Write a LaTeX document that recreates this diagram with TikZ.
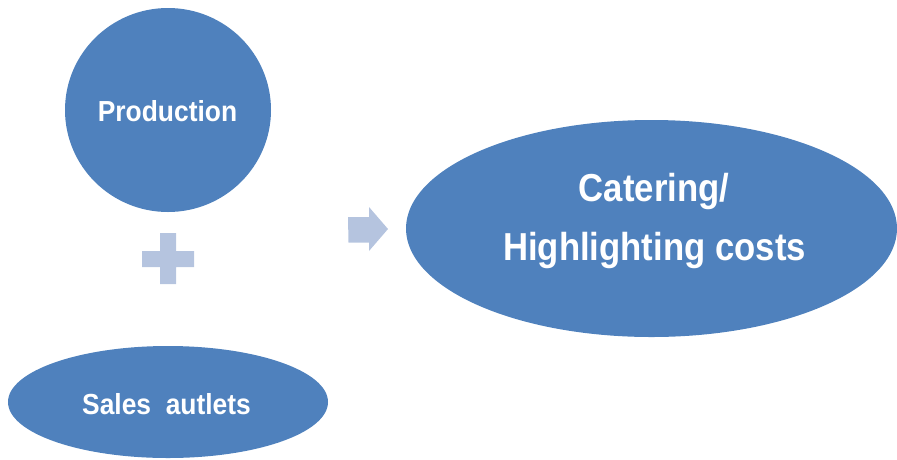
\documentclass[tikz,border=0pt]{standalone}
\usepackage{fontspec}
\usepackage{graphicx}
\setmainfont{Liberation Sans}
\usetikzlibrary{shapes.geometric}
\definecolor{mainblue}{RGB}{79,129,189}
\definecolor{lightblue}{RGB}{181,196,223}
\tikzset{
  blob/.style={ellipse, fill=mainblue, draw=none, inner sep=0pt},
  smalltxt/.style={text=white, anchor=base, inner sep=0pt, font=\bfseries\fontsize{29}{32}\selectfont},
  bigtxt/.style={text=white, anchor=base, inner sep=0pt, font=\bfseries\fontsize{39}{44}\selectfont},
  deco/.style={fill=lightblue, draw=none}
}
\begin{document}
\begin{tikzpicture}[x=1pt,y=-1pt]
\useasboundingbox (0,0) rectangle (897,459);
% shapes
\node[blob, minimum width=206pt, minimum height=204pt] (prod) at (168,110) {};
\node[blob, minimum width=320pt, minimum height=112pt] (sales) at (168,402) {};
\node[blob, minimum width=491pt, minimum height=217pt] (cater) at (651.5,228.5) {};
% texts
\node[smalltxt] (prodtxt) at (167.5,121) {\scalebox{0.91}[1]{Production}};
\node[smalltxt] (salestxt) at (166.5,414) {\scalebox{0.91}[1]{Sales\ \ autlets}};
\node[bigtxt] (catertxt1) at (654,201) {\scalebox{0.89}[1]{Catering/}};
\node[bigtxt] (catertxt2) at (654.5,260) {\scalebox{0.89}[1]{Highlighting costs}};
% plus sign
\fill[deco] (160,233) -- (176,233) -- (176,251) -- (194,251) -- (194,267) -- (176,267)
  -- (176,284) -- (160,284) -- (160,267) -- (142,267) -- (142,251) -- (160,251) -- cycle;
% arrow
\fill[deco] (348,217) -- (369,217) -- (369,207) -- (388,229) -- (369,251) -- (369,242.5) -- (348.5,242.5) -- cycle;
\end{tikzpicture}
\end{document}
